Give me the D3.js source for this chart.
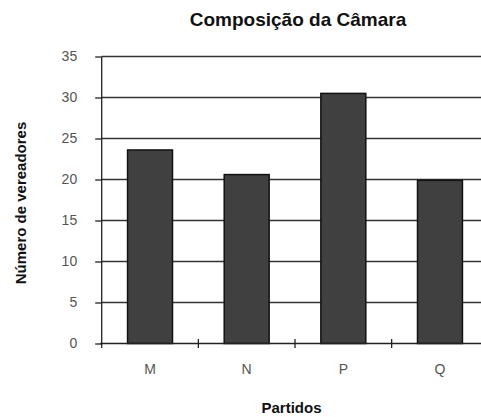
<!DOCTYPE html>
<html>
<head>
<meta charset="utf-8">
<script src="https://cdn.jsdelivr.net/npm/d3@7"></script>
<style>
  html, body { margin: 0; padding: 0; background: #fff; }
  svg { display: block; }
  text { font-family: "Liberation Sans", Arial, sans-serif; }
</style>
</head>
<body>
<div id="chart"></div>
<script>
const categories = ["M", "N", "P", "Q"];
const values = [23.6, 20.6, 30.5, 19.9];
const yTicks = [0, 5, 10, 15, 20, 25, 30, 35];
const titleText = "Composição da Câmara";
const yTitle = "Número de vereadores";
const xTitle = "Partidos";

const W = 481, H = 417;
const svg = d3.select("#chart").append("svg").attr("width", W).attr("height", H);

const pLeft = 101.7, pRight = 488.3, pTop = 56.5, pBottom = 343.5;

const xBand = d3.scaleBand().domain(categories).range([pLeft, pRight]).padding(0);
const xBar = d3.scaleBand().domain(categories).range([pLeft, pRight]).paddingInner(0.535).paddingOuter(0.2675);
const y = d3.scaleLinear().domain([0, 35]).range([pBottom, pTop]);

// gridlines
svg.append("g").selectAll("line").data(yTicks.filter(d => d > 0)).join("line")
  .attr("x1", pLeft).attr("x2", W)
  .attr("y1", d => y(d)).attr("y2", d => y(d))
  .attr("stroke", "#333").attr("stroke-width", 1.3);

// y axis
const yAxis = d3.axisLeft(y).tickValues(yTicks).tickSize(6.5).tickPadding(18).tickFormat(d3.format("d"));
const gy = svg.append("g").attr("transform", `translate(${pLeft},0)`).call(yAxis);
gy.select(".domain").remove();
gy.selectAll(".tick line").attr("stroke", "#222").attr("stroke-width", 1.3);
gy.selectAll(".tick text").attr("font-size", 14).attr("fill", "#555")
  .attr("font-family", "Liberation Sans, Arial, sans-serif");
svg.append("line").attr("x1", pLeft).attr("x2", pLeft).attr("y1", pTop).attr("y2", pBottom + 4.5)
  .attr("stroke", "#222").attr("stroke-width", 1.3);

// bars
svg.append("g").selectAll("rect").data(categories).join("rect")
  .attr("x", d => xBar(d))
  .attr("width", xBar.bandwidth())
  .attr("y", (d, i) => y(values[i]))
  .attr("height", (d, i) => y(0) - y(values[i]))
  .attr("fill", "#404040").attr("stroke", "#111").attr("stroke-width", 1.5);

// x axis
svg.append("line").attr("x1", pLeft - 1.5).attr("x2", W).attr("y1", pBottom).attr("y2", pBottom)
  .attr("stroke", "#222").attr("stroke-width", 1.3);
svg.append("g").selectAll("line").data(categories.slice(1)).join("line")
  .attr("x1", d => xBand(d)).attr("x2", d => xBand(d))
  .attr("y1", pBottom - 4.5).attr("y2", pBottom + 4.5)
  .attr("stroke", "#222").attr("stroke-width", 1.3);
svg.append("g").selectAll("text").data(categories).join("text")
  .attr("x", d => xBand(d) + xBand.bandwidth() / 2)
  .attr("y", 374)
  .attr("text-anchor", "middle")
  .attr("font-size", 14).attr("fill", "#555")
  .text(d => d);

// titles
svg.append("text").attr("x", 298).attr("y", 25.5).attr("text-anchor", "middle")
  .attr("font-size", 19).attr("font-weight", "bold").attr("fill", "#111").text(titleText);
svg.append("text").attr("transform", "translate(26,203) rotate(-90)").attr("text-anchor", "middle")
  .attr("font-size", 15).attr("font-weight", "bold").attr("fill", "#111").text(yTitle);
svg.append("text").attr("x", 291.5).attr("y", 413).attr("text-anchor", "middle")
  .attr("font-size", 15).attr("font-weight", "bold").attr("fill", "#111").text(xTitle);
</script>
</body>
</html>
